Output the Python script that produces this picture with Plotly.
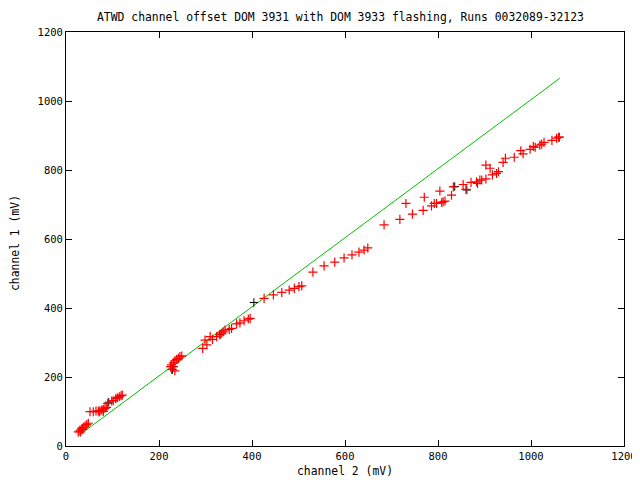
import plotly.graph_objects as go

# red series (channel 2, channel 1) in mV
red_x = [26.5, 30, 34, 37, 41, 44.5, 48, 31.5, 36,
         51.6, 58.7, 64.5, 69.5, 73, 76.8, 80.2, 83.9, 87.5, 89.7, 98.3, 101.7, 106.9, 110.3, 114.6, 118.3, 121.1, 80.2, 71.6,
         227, 231, 234, 238, 242, 245, 249, 227, 234, 231, 225,
         294, 299, 303, 310, 315, 324, 331, 335, 338, 342, 351, 356, 367, 374, 383, 392, 396,
         426, 446, 464, 480, 491, 501, 507,
         531, 555, 578, 598, 615, 630, 641, 649, 684, 718,
         731, 745, 768, 770.5, 786, 792, 797, 808, 811, 815, 804, 829, 833, 854, 860, 871, 883, 885, 890, 894,
         903, 903, 912, 917, 926, 930, 940, 945, 964, 978, 983, 998, 1005, 1009, 1019, 1023, 1028, 1045, 1055, 1059, 1061]
red_y = [41, 46, 50, 54, 58, 62, 66, 41, 48,
         99.4, 99.4, 101.4, 101.4, 102.3, 104.3, 106.4, 109.3, 112.2, 123.8, 130.4, 131.3, 137.1, 140, 142.9, 145.8, 147.8, 100.5, 98.6,
         235, 241, 247, 251, 254, 259, 261, 222, 218, 230, 230,
         283, 307, 293, 317, 309, 317, 322, 327, 331, 336, 338, 341, 354, 357, 363, 368, 370,
         428, 438, 445, 452, 457, 462, 464,
         504, 522, 533, 545, 554, 562, 568, 574, 641, 657,
         703, 672, 683, 721, 696, 703, 703, 706, 708, 710, 739, 727, 751, 758, 744, 764, 766, 761, 771, 771,
         774, 814, 805, 786, 790, 795, 822, 834, 837, 856, 847, 860, 868, 866, 872, 875, 880, 886, 892, 895, 895]

# black series (mostly hidden beneath red)
black_x = [404, 92, 229, 331, 836, 862]
black_y = [416, 127, 222, 323, 752, 742]

# green reference line
green_x = [25, 1062]
green_y = [28, 1066]

title_text = "ATWD channel offset DOM 3931 with DOM 3933 flashing, Runs 0032089-32123"
x_title = "channel 2 (mV)"
y_title = "channel 1 (mV)"
ticks = [0, 200, 400, 600, 800, 1000, 1200]

FONT = "DejaVu Sans Mono"

# page body has an 8px margin; plot area targeted at x 66..624, y 32..446 in the screenshot
OFF = 8
L, T, PW, PH = 66 - OFF, 32 - OFF, 558, 414
W, H = 640 - OFF, 480 - OFF

fig = go.Figure()
fig.add_trace(go.Scatter(x=green_x, y=green_y, mode="lines",
                         line=dict(color="#00c000", width=1), showlegend=False))
fig.add_trace(go.Scatter(x=black_x, y=black_y, mode="markers",
                         marker=dict(symbol="cross-thin", size=6, line=dict(color="black", width=1)),
                         showlegend=False))
fig.add_trace(go.Scatter(x=red_x, y=red_y, mode="markers",
                         marker=dict(symbol="cross-thin", size=6.5, line=dict(color="#ff0000", width=1.2)),
                         showlegend=False))

axis_common = dict(range=[0, 1200], tickvals=ticks, ticks="inside", ticklen=6, tickcolor="black",
                   showline=True, linecolor="black", linewidth=1, mirror="ticks",
                   showgrid=False, zeroline=False, automargin=False,
                   tickfont=dict(family=FONT, size=10.5, color="black"))

fig.update_layout(
    width=W, height=H,
    margin=dict(l=L, r=W - L - PW, t=T, b=H - T - PH, pad=0, autoexpand=False),
    paper_bgcolor="white", plot_bgcolor="white",
    xaxis=dict(**axis_common),
    yaxis=dict(**axis_common),
    font=dict(family=FONT, size=11, color="black"),
    annotations=[
        dict(text=title_text, xref="paper", yref="paper", x=(340 - 66) / PW, y=(446 - 17) / PH,
             xanchor="center", yanchor="middle", showarrow=False,
             font=dict(family=FONT, size=11.4, color="black")),
        dict(text=x_title, xref="paper", yref="paper", x=(345 - 66) / PW, y=(446 - 471) / PH,
             xanchor="center", yanchor="middle", showarrow=False,
             font=dict(family=FONT, size=11.4, color="black")),
        dict(text=y_title, xref="paper", yref="paper", x=(15 - 66) / PW, y=(446 - 243) / PH,
             xanchor="center", yanchor="middle", showarrow=False, textangle=-90,
             font=dict(family=FONT, size=11.4, color="black")),
    ],
)

fig.write_html("out.html")
